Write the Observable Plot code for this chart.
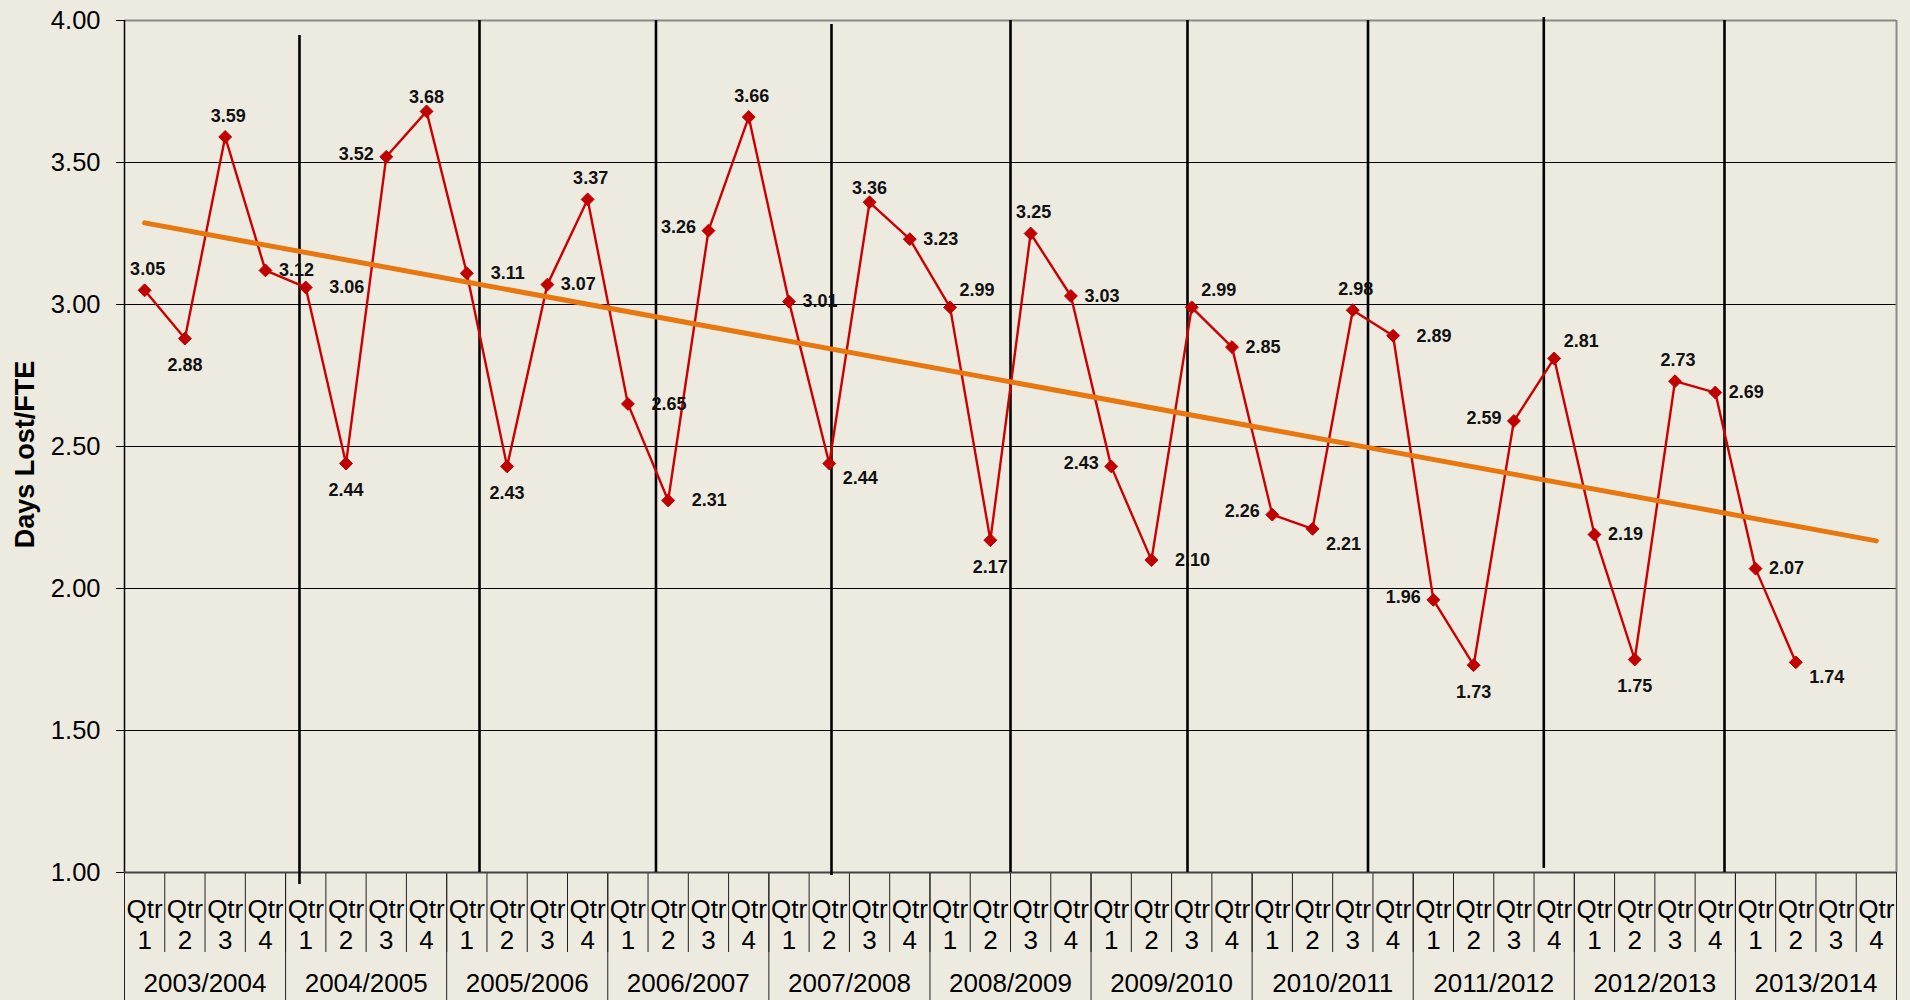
<!DOCTYPE html>
<html>
<head>
<meta charset="utf-8">
<script src="https://cdn.jsdelivr.net/npm/d3@7"></script>
<script src="https://cdn.jsdelivr.net/npm/@observablehq/plot@0.6"></script>
<style>
  html, body { margin: 0; padding: 0; background: #EDEBE0; overflow: hidden; }
  #chart svg { display: block; }
</style>
</head>
<body>
<div id="chart"></div>
<script>
// ---------- data ----------
const fiscalYears = ["2003/2004","2004/2005","2005/2006","2006/2007","2007/2008","2008/2009","2009/2010","2010/2011","2011/2012","2012/2013","2013/2014"];
const quarterLabels = ["Qtr\n1","Qtr\n2","Qtr\n3","Qtr\n4"];
const daysLostPerFTE = [
  3.05, 2.88, 3.59, 3.12,
  3.06, 2.44, 3.52, 3.68,
  3.11, 2.43, 3.07, 3.37,
  2.65, 2.31, 3.26, 3.66,
  3.01, 2.44, 3.36, 3.23,
  2.99, 2.17, 3.25, 3.03,
  2.43, 2.10, 2.99, 2.85,
  2.26, 2.21, 2.98, 2.89,
  1.96, 1.73, 2.59, 2.81,
  2.19, 1.75, 2.73, 2.69,
  2.07, 1.74
];
// where each data label sits relative to its marker (t=above, tt=just above, b=below, r=right, rr=far right, l=left, tr=upper right, br=lower right)
const labelPlacement = [
  "t","b","t","r",
  "rr","b","l","tt",
  "rr","b","r","t",
  "rr","rr","l","t",
  "r","br","tt","r",
  "tr","b","t","r",
  "l","rr","tr","r",
  "l","br","t","rr",
  "l","b","l","tr",
  "r","b","t","r",
  "r","br"
];
const yTickValues = [1, 1.5, 2, 2.5, 3, 3.5, 4];
// hand-drawn year separator lines (in quarter units along x, value units along y)
const yearDividerAt     = [4.345, 8.815, 13.197, 17.555, 22.0, 26.395, 30.877, 35.242, 39.729];
const yearDividerTop    = [3.947, 4, 4, 3.986, 4, 4, 4, 4.011, 4];
const yearDividerBottom = [0.958, 1, 1, 0.989, 1, 1, 1, 1.014, 1];
const yAxisTitle = "Days Lost/FTE";

// ---------- derived tables ----------
const nQ = fiscalYears.length * 4;
const rows = daysLostPerFTE.map((v, i) => ({i, x: i + 0.5, v, pos: labelPlacement[i]}));
const mx = d3.mean(rows, d => d.i), my = d3.mean(rows, d => d.v);
const slope = d3.sum(rows, d => (d.i - mx) * (d.v - my)) / d3.sum(rows, d => (d.i - mx) ** 2);
const intercept = my - slope * mx;
const trend = [0, nQ - 1].map(i => ({x: i + 0.5, v: intercept + slope * i}));
const separators = yearDividerAt.map((x, k) => ({x, top: yearDividerTop[k], bottom: yearDividerBottom[k]}));

const labelOffsets = {
  t: [3, -21], tt: [0, -14], b: [0, 27], r: [31, 0], rr: [41, 0], l: [-30, -3], tr: [27, -17], br: [31, 15]
};

const FONT = "'Liberation Sans', Arial, Helvetica, sans-serif";
const RED_LINE = "#CC0000", RED_MARK = "#C00000", ORANGE = "#E8770F";

const labelMarks = Object.entries(labelOffsets).map(([code, [dx, dy]]) =>
  Plot.text(rows.filter(d => d.pos === code), {
    x: d => d.x, y: d => d.v, text: d => d3.format(".2f")(d.v),
    dx, dy, fontSize: 18, fontWeight: "bold", fill: "#111", fontFamily: FONT
  })
);

const chart = Plot.plot({
  width: 1910,
  height: 1000,
  marginTop: 20,
  marginBottom: 128,
  marginLeft: 124,
  marginRight: 14,
  style: {background: "#EDEBE0", fontFamily: FONT, color: "#000", overflow: "visible"},
  x: {type: "linear", domain: [0, nQ]},
  y: {type: "linear", domain: [1, 4]},
  marks: [
    // horizontal gridlines
    Plot.ruleY(yTickValues.filter(v => v > 1 && v < 4), {y: d => d, stroke: "#000", strokeWidth: 1}),
    // plot frame
    Plot.ruleY([4], {y: d => d, stroke: "#8a8a8a", strokeWidth: 2}),
    Plot.ruleX([nQ], {x: d => d, y1: 1, y2: 4, stroke: "#8a8a8a", strokeWidth: 2}),
    Plot.ruleX([0], {x: d => d, y1: 1, y2: 4, stroke: "#000", strokeWidth: 1.5}),
    // y axis
    Plot.axisY({ticks: yTickValues, tickFormat: d3.format(".2f"), tickSize: 8, tickPadding: 16,
      fontSize: 25.5, label: null, stroke: "#000"}),
    // category table: quarter dividers and year dividers
    Plot.axisX({ticks: d3.range(0, nQ + 1), tickSize: 80, tickFormat: () => "", label: null,
      stroke: "#222", strokeWidth: 1}),
    Plot.axisX({ticks: d3.range(0, nQ + 1, 4), tickSize: 128, tickFormat: () => "", label: null,
      stroke: "#222", strokeWidth: 1}),
    // quarter labels
    Plot.axisX({ticks: d3.range(nQ).map(i => i + 0.5), tickSize: 0, tickPadding: 23,
      tickFormat: d => quarterLabels[Math.floor(d) % 4], fontSize: 26, lineHeight: 1.2, label: null}),
    // fiscal year labels
    Plot.axisX({ticks: fiscalYears.map((_, k) => 4 * k + 2), tickSize: 0, tickPadding: 101,
      tickFormat: d => fiscalYears[Math.round((d - 2) / 4)], fontSize: 26, label: null}),
    // bottom axis line
    Plot.ruleY([1], {y: d => d, stroke: "#444", strokeWidth: 2}),
    // year separator lines
    Plot.ruleX(separators, {x: d => d.x, y1: d => d.bottom, y2: d => d.top, stroke: "#000", strokeWidth: 2.6}),
    // data series
    Plot.line(rows, {x: d => d.x, y: d => d.v, stroke: RED_LINE, strokeWidth: 2.4}),
    Plot.dot(rows, {x: d => d.x, y: d => d.v, symbol: "diamond2", r: 5.8, fill: RED_MARK, stroke: RED_MARK, strokeWidth: 1}),
    // linear trend line
    Plot.line(trend, {x: d => d.x, y: d => d.v, stroke: ORANGE, strokeWidth: 5, strokeLinecap: "round"}),
    // data labels
    ...labelMarks,
    // y axis title
    Plot.text([yAxisTitle], {frameAnchor: "left", rotate: -90, textAnchor: "middle", lineAnchor: "top",
      dx: -110, dy: 8, fontSize: 27, fontWeight: "bold", fill: "#000", fontFamily: FONT})
  ]
});

document.getElementById("chart").appendChild(chart);
</script>
</body>
</html>
